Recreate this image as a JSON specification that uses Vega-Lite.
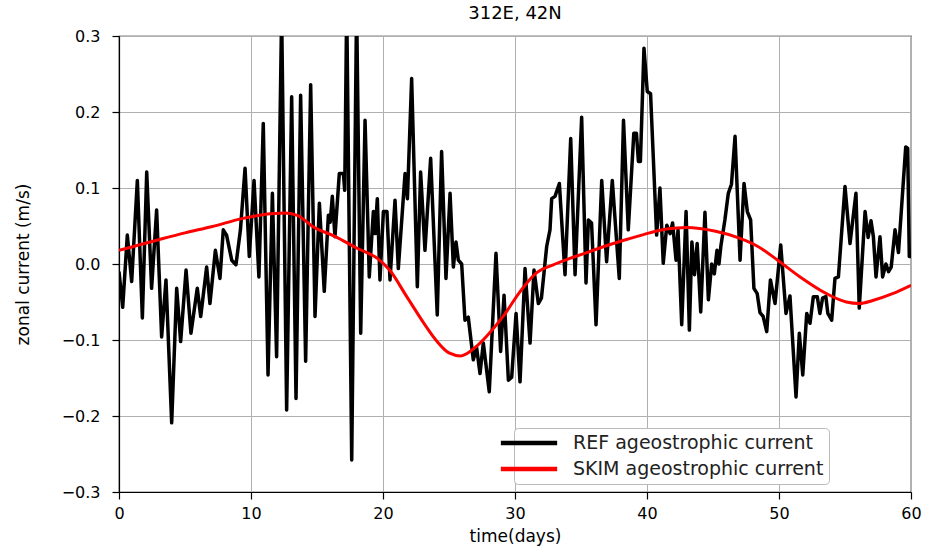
{
  "$schema": "https://vega.github.io/schema/vega-lite/v6.json",
  "width": 792,
  "height": 456,
  "autosize": {"type": "none"},
  "padding": {"left": 119, "top": 36, "right": 15, "bottom": 54},
  "background": "white",
  "title": {"text": "312E, 42N", "fontSize": 18, "font": "DejaVu Sans", "fontWeight": "normal", "color": "black", "frame": "group", "offset": 5},
  "config": {
    "view": {"stroke": "black", "strokeWidth": 1.2},
    "axis": {
      "grid": true, "gridColor": "#b0b0b0", "gridWidth": 1,
      "domainColor": "black", "domainWidth": 1.2,
      "tickColor": "black", "tickSize": 7, "tickWidth": 1.2,
      "labelFont": "DejaVu Sans", "labelFontSize": 16, "labelColor": "black", "labelFlush": false,
      "titleFont": "DejaVu Sans", "titleFontSize": 17, "titleFontWeight": "normal", "titleColor": "black"
    }
  },
  "datasets": {
    "ref": [
      {"t": 0, "v": -0.01}, {"t": 0.28, "v": -0.057}, {"t": 0.63, "v": 0.038}, {"t": 0.96, "v": -0.023},
      {"t": 1.39, "v": 0.11}, {"t": 1.77, "v": -0.071}, {"t": 2.1, "v": 0.121}, {"t": 2.47, "v": -0.032},
      {"t": 2.85, "v": 0.071}, {"t": 3.23, "v": -0.096}, {"t": 3.56, "v": -0.021}, {"t": 3.99, "v": -0.209},
      {"t": 4.37, "v": -0.032}, {"t": 4.67, "v": -0.102}, {"t": 5.08, "v": -0.008}, {"t": 5.45, "v": -0.091},
      {"t": 5.93, "v": -0.032}, {"t": 6.19, "v": -0.069}, {"t": 6.64, "v": -0.004}, {"t": 6.89, "v": -0.052},
      {"t": 7.3, "v": 0.018}, {"t": 7.65, "v": -0.019}, {"t": 7.9, "v": 0.045}, {"t": 8.15, "v": 0.038},
      {"t": 8.54, "v": 0.005}, {"t": 8.86, "v": -0.001}, {"t": 9.2, "v": 0.045}, {"t": 9.55, "v": 0.126},
      {"t": 9.87, "v": 0.01}, {"t": 10.23, "v": 0.11}, {"t": 10.6, "v": -0.017}, {"t": 10.93, "v": 0.185},
      {"t": 11.29, "v": -0.146}, {"t": 11.62, "v": 0.093}, {"t": 11.94, "v": -0.122}, {"t": 12.32, "v": 0.33},
      {"t": 12.7, "v": -0.192}, {"t": 13.08, "v": 0.22}, {"t": 13.41, "v": -0.177}, {"t": 13.76, "v": 0.222},
      {"t": 14.14, "v": -0.128}, {"t": 14.52, "v": 0.236}, {"t": 14.85, "v": -0.069}, {"t": 15.18, "v": 0.08},
      {"t": 15.55, "v": -0.036}, {"t": 15.86, "v": 0.064}, {"t": 16.0, "v": 0.055}, {"t": 16.16, "v": 0.089},
      {"t": 16.36, "v": 0.036}, {"t": 16.69, "v": 0.119}, {"t": 17.0, "v": 0.119}, {"t": 17.1, "v": 0.097},
      {"t": 17.25, "v": 0.34}, {"t": 17.63, "v": -0.258}, {"t": 18.0, "v": 0.34}, {"t": 18.31, "v": -0.091},
      {"t": 18.64, "v": 0.189}, {"t": 18.96, "v": -0.017}, {"t": 19.27, "v": 0.069}, {"t": 19.4, "v": 0.04},
      {"t": 19.57, "v": 0.086}, {"t": 19.77, "v": -0.021}, {"t": 20.03, "v": 0.069}, {"t": 20.3, "v": 0.069},
      {"t": 20.53, "v": -0.021}, {"t": 20.91, "v": 0.084}, {"t": 21.16, "v": -0.006}, {"t": 21.67, "v": 0.119},
      {"t": 21.85, "v": 0.086}, {"t": 22.17, "v": 0.244}, {"t": 22.6, "v": -0.03}, {"t": 22.85, "v": 0.121},
      {"t": 23.18, "v": 0.018}, {"t": 23.61, "v": 0.139}, {"t": 24.11, "v": -0.067}, {"t": 24.44, "v": 0.148},
      {"t": 24.77, "v": -0.019}, {"t": 25.08, "v": 0.093}, {"t": 25.33, "v": -0.004}, {"t": 25.53, "v": 0.029},
      {"t": 25.71, "v": 0.005}, {"t": 25.96, "v": 0.0}, {"t": 26.21, "v": -0.074}, {"t": 26.46, "v": -0.07},
      {"t": 26.84, "v": -0.126}, {"t": 27.09, "v": -0.11}, {"t": 27.35, "v": -0.144}, {"t": 27.6, "v": -0.104},
      {"t": 28.05, "v": -0.168}, {"t": 28.56, "v": 0.014}, {"t": 28.91, "v": -0.115}, {"t": 29.17, "v": -0.041},
      {"t": 29.5, "v": -0.153}, {"t": 29.75, "v": -0.149}, {"t": 30.08, "v": -0.065}, {"t": 30.38, "v": -0.155},
      {"t": 30.76, "v": -0.006}, {"t": 31.14, "v": -0.104}, {"t": 31.44, "v": -0.008}, {"t": 31.77, "v": -0.052},
      {"t": 32.0, "v": -0.045}, {"t": 32.4, "v": 0.023}, {"t": 32.65, "v": 0.045}, {"t": 32.78, "v": 0.086},
      {"t": 33.03, "v": 0.089}, {"t": 33.36, "v": 0.106}, {"t": 33.79, "v": -0.014}, {"t": 34.22, "v": 0.165},
      {"t": 34.55, "v": -0.014}, {"t": 35.05, "v": 0.193}, {"t": 35.38, "v": -0.025}, {"t": 35.56, "v": 0.058},
      {"t": 35.8, "v": 0.054}, {"t": 36.14, "v": -0.08}, {"t": 36.57, "v": 0.11}, {"t": 36.94, "v": 0.003},
      {"t": 37.37, "v": 0.11}, {"t": 37.9, "v": -0.019}, {"t": 38.22, "v": 0.189}, {"t": 38.58, "v": 0.045},
      {"t": 39.0, "v": 0.172}, {"t": 39.2, "v": 0.172}, {"t": 39.35, "v": 0.135}, {"t": 39.5, "v": 0.135},
      {"t": 39.77, "v": 0.284}, {"t": 40.02, "v": 0.227}, {"t": 40.27, "v": 0.224}, {"t": 40.73, "v": 0.038},
      {"t": 40.98, "v": 0.1}, {"t": 41.23, "v": 0.001}, {"t": 41.5, "v": 0.051}, {"t": 41.75, "v": 0.04},
      {"t": 41.94, "v": 0.054}, {"t": 42.2, "v": 0.005}, {"t": 42.35, "v": 0.045}, {"t": 42.63, "v": -0.08},
      {"t": 42.96, "v": 0.069}, {"t": 43.21, "v": -0.087}, {"t": 43.4, "v": 0.029}, {"t": 43.6, "v": -0.014},
      {"t": 43.8, "v": 0.027}, {"t": 44.07, "v": -0.063}, {"t": 44.39, "v": 0.068}, {"t": 44.65, "v": -0.047},
      {"t": 44.9, "v": 0.0}, {"t": 45.1, "v": -0.013}, {"t": 45.3, "v": 0.018}, {"t": 45.45, "v": 0.0},
      {"t": 45.6, "v": 0.024}, {"t": 45.9, "v": 0.058}, {"t": 46.16, "v": 0.093}, {"t": 46.4, "v": 0.105},
      {"t": 46.67, "v": 0.168}, {"t": 47.05, "v": 0.005}, {"t": 47.35, "v": 0.106}, {"t": 47.6, "v": 0.069},
      {"t": 47.85, "v": 0.058}, {"t": 48.1, "v": -0.032}, {"t": 48.35, "v": -0.039}, {"t": 48.56, "v": -0.064},
      {"t": 48.8, "v": -0.069}, {"t": 49.07, "v": -0.089}, {"t": 49.35, "v": -0.021}, {"t": 49.7, "v": -0.052},
      {"t": 50.13, "v": 0.025}, {"t": 50.53, "v": -0.065}, {"t": 50.83, "v": -0.042}, {"t": 51.29, "v": -0.175},
      {"t": 51.54, "v": -0.091}, {"t": 51.8, "v": -0.146}, {"t": 52.1, "v": -0.065}, {"t": 52.35, "v": -0.078},
      {"t": 52.6, "v": -0.043}, {"t": 52.9, "v": -0.043}, {"t": 53.1, "v": -0.065}, {"t": 53.3, "v": -0.045},
      {"t": 53.55, "v": -0.043}, {"t": 53.7, "v": -0.065}, {"t": 53.99, "v": -0.074}, {"t": 54.24, "v": -0.019},
      {"t": 54.5, "v": -0.017}, {"t": 55.0, "v": 0.102}, {"t": 55.38, "v": 0.027}, {"t": 55.83, "v": 0.093},
      {"t": 56.08, "v": -0.058}, {"t": 56.52, "v": 0.069}, {"t": 56.75, "v": 0.035}, {"t": 56.97, "v": 0.057},
      {"t": 57.15, "v": 0.036}, {"t": 57.35, "v": -0.017}, {"t": 57.65, "v": 0.036}, {"t": 57.85, "v": -0.017},
      {"t": 58.1, "v": 0.0}, {"t": 58.3, "v": -0.01}, {"t": 58.5, "v": -0.004}, {"t": 58.79, "v": 0.045},
      {"t": 59.05, "v": 0.015}, {"t": 59.6, "v": 0.154}, {"t": 59.75, "v": 0.152}, {"t": 59.87, "v": 0.01},
      {"t": 60.0, "v": 0.01}
    ],
    "skim": [
      {"t": 0, "v": 0.018}, {"t": 1.5, "v": 0.025}, {"t": 3, "v": 0.032}, {"t": 5, "v": 0.041},
      {"t": 7, "v": 0.049}, {"t": 9.4, "v": 0.06}, {"t": 11, "v": 0.065}, {"t": 12.5, "v": 0.067},
      {"t": 13.5, "v": 0.064}, {"t": 14.7, "v": 0.049}, {"t": 16.4, "v": 0.036}, {"t": 18.0, "v": 0.021},
      {"t": 19.6, "v": 0.007}, {"t": 20.5, "v": -0.008}, {"t": 21.8, "v": -0.043}, {"t": 23.1, "v": -0.078},
      {"t": 24.1, "v": -0.102}, {"t": 25.0, "v": -0.117}, {"t": 25.9, "v": -0.121}, {"t": 27.1, "v": -0.108},
      {"t": 27.8, "v": -0.096}, {"t": 29.1, "v": -0.069}, {"t": 30.4, "v": -0.036}, {"t": 31.6, "v": -0.012},
      {"t": 32.9, "v": -0.001}, {"t": 34.1, "v": 0.007}, {"t": 35.6, "v": 0.016}, {"t": 37.1, "v": 0.025},
      {"t": 38.6, "v": 0.033}, {"t": 40.2, "v": 0.041}, {"t": 41.5, "v": 0.046}, {"t": 43.0, "v": 0.048},
      {"t": 45.2, "v": 0.043}, {"t": 47.0, "v": 0.034}, {"t": 48.4, "v": 0.023}, {"t": 49.9, "v": 0.005},
      {"t": 51.6, "v": -0.017}, {"t": 53.6, "v": -0.039}, {"t": 55.1, "v": -0.05}, {"t": 56.1, "v": -0.052},
      {"t": 57.1, "v": -0.048}, {"t": 58.6, "v": -0.039}, {"t": 60, "v": -0.028}
    ]
  },
  "layer": [
    {
      "data": {"name": "ref"},
      "transform": [{"calculate": "'REF ageostrophic current'", "as": "series"}],
      "mark": {"type": "line", "strokeWidth": 3.5, "clip": true, "strokeJoin": "round"},
      "encoding": {
        "x": {"field": "t", "type": "quantitative", "scale": {"domain": [0, 60], "nice": false, "zero": false},
          "axis": {"title": "time(days)", "values": [0, 10, 20, 30, 40, 50, 60], "format": "d", "labelPadding": 6, "titlePadding": 7}},
        "y": {"field": "v", "type": "quantitative", "scale": {"domain": [-0.3, 0.3], "nice": false},
          "axis": {"title": "zonal current (m/s)", "values": [-0.3, -0.2, -0.1, 0, 0.1, 0.2, 0.3],
            "labelExpr": "replace(format(datum.value, '.1f'), '-', '\u2212')", "labelPadding": 12, "titlePadding": 29}},
        "color": {"field": "series", "type": "nominal",
          "scale": {"domain": ["REF ageostrophic current", "SKIM ageostrophic current"], "range": ["#000000", "#ff0000"]},
          "legend": {"orient": "none", "legendX": 395, "legendY": 392, "title": null,
            "symbolType": "M-3.3,-0.05H3.3V0.05H-3.3Z", "symbolSize": 256, "symbolStrokeWidth": 3.5, "symbolFillColor": "transparent",
            "labelFontSize": 19, "labelFont": "DejaVu Sans", "labelColor": "#222222", "labelLimit": 400,
            "labelOffset": 34, "strokeColor": "#bbbbbb", "fillColor": "white", "cornerRadius": 4,
            "padding": 5, "rowPadding": 6}}
      }
    },
    {
      "data": {"name": "skim"},
      "transform": [{"calculate": "'SKIM ageostrophic current'", "as": "series"}],
      "mark": {"type": "line", "strokeWidth": 3, "clip": true, "interpolate": "monotone"},
      "encoding": {
        "x": {"field": "t", "type": "quantitative"},
        "y": {"field": "v", "type": "quantitative"},
        "color": {"field": "series", "type": "nominal"}
      }
    }
  ]
}
